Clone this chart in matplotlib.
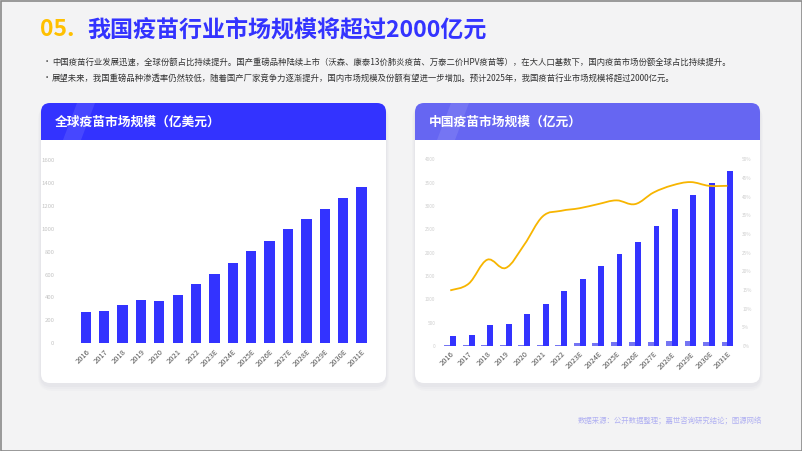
import matplotlib.pyplot as plt
import numpy as np
from matplotlib.patches import FancyBboxPatch, Rectangle, Polygon
from matplotlib.path import Path
from matplotlib.patches import PathPatch

plt.rcParams["font.family"] = ["Noto Sans CJK SC", "DejaVu Sans"]

years = ["2016", "2017", "2018", "2019", "2020", "2021", "2022", "2023E",
         "2024E", "2025E", "2026E", "2027E", "2028E", "2029E", "2030E", "2031E"]

# global vaccine market (100M USD)
global_market = [273, 282, 335, 375, 369, 425, 515, 605, 704, 803, 896, 995, 1085, 1175, 1265, 1364]

# China vaccine market (100M CNY), secondary small series, and share line (%)
china_small = [25, 25, 25, 25, 25, 25, 25, 55, 70, 80, 92, 95, 102, 102, 95, 85]
china_market = [214, 243, 450, 479, 686, 900, 1179, 1429, 1714, 1964, 2221, 2564, 2936, 3236, 3486, 3750]
china_share = [14.9, 16.7, 23.1, 20.9, 27.1, 34.7, 36.2, 36.9, 38.0, 39.0, 38.0, 41.1, 43.0, 43.9, 42.9, 42.9]

left_ticks = [0, 200, 400, 600, 800, 1000, 1200, 1400, 1600]
right_ticks = [0, 500, 1000, 1500, 2000, 2500, 3000, 3500, 4000]
pct_ticks = [0, 5, 10, 15, 20, 25, 30, 35, 40, 45, 50]

title_num = "05."
title_text = "我国疫苗行业市场规模将超过2000亿元"
bullets = [
    "中国疫苗行业发展迅速，全球份额占比持续提升。国产重磅品种陆续上市（沃森、康泰13价肺炎疫苗、万泰二价HPV疫苗等），在大人口基数下，国内疫苗市场份额全球占比持续提升。",
    "展望未来，我国重磅品种渗透率仍然较低，随着国产厂家竞争力逐渐提升，国内市场规模及份额有望进一步增加。预计2025年，我国疫苗行业市场规模将超过2000亿元。",
]
card_titles = ["全球疫苗市场规模（亿美元）", "中国疫苗市场规模（亿元）"]
source = "数据来源：公开数据整理；嘉世咨询研究结论；图源网络"

BLUE = "#3333ff"
LIGHT_BLUE = "#6666f2"
YELLOW = "#ffc000"
W, H = 802, 451

fig = plt.figure(figsize=(W / 100, H / 100), dpi=100)
fig.patch.set_facecolor("#f3f3f4")

# background canvas in pixel coords
bg = fig.add_axes([0, 0, 1, 1])
bg.set_xlim(0, W)
bg.set_ylim(H, 0)
bg.axis("off")
bg.add_patch(Rectangle((0.5, 0.5), W - 1, H - 1, fill=False, ec="#8a8a8a", lw=1.2))

bg.text(40, 30, title_num, color=YELLOW, fontsize=16.5, fontweight="bold", va="center")
bg.text(87, 30, title_text, color=BLUE, fontsize=16.6, fontweight="bold", va="center")
for i, line in enumerate(bullets):
    y = 62 + 16 * i
    bg.text(43, y, "•", color="#444444", fontsize=6, va="center")
    bg.text(52, y, line, color="#333333", fontsize=6.0, va="center")


def card(x0, x1, y0, y1, head_color, title):
    r = 9
    # soft shadow
    for k, a in [(6, 0.03), (4, 0.04), (2, 0.05)]:
        bg.add_patch(FancyBboxPatch((x0 - k / 2, y0 + 2), x1 - x0 + k, y1 - y0 + k,
                                    boxstyle=f"round,pad=0,rounding_size={r + k}",
                                    fc="#9090b0", ec="none", alpha=a))
    bg.add_patch(FancyBboxPatch((x0, y0), x1 - x0, y1 - y0,
                                boxstyle=f"round,pad=0,rounding_size={r}",
                                fc="white", ec="none"))
    bg.add_patch(FancyBboxPatch((x0, y0), x1 - x0, 48,
                                boxstyle=f"round,pad=0,rounding_size={r}",
                                fc=head_color, ec="none"))
    bg.add_patch(Rectangle((x0, 140), x1 - x0, 14, fc="white", ec="none"))
    bg.add_patch(Polygon([(x0 + 22, 140), (x0 + 40, 140), (x0 + 54, y0), (x0 + 36, y0)],
                         closed=True, fc="white", ec="none", alpha=0.1))
    bg.text(x0 + 14, 122, title, color="white", fontsize=9.2, fontweight="bold", va="center")


card(41, 386, 103, 383, BLUE, card_titles[0])
card(415, 760, 103, 383, LIGHT_BLUE, card_titles[1])

bg.text(762, 421, source, color="#b0b0f2", fontsize=5.3, ha="right", va="center")

x = np.arange(len(years))

# left chart
ax1 = fig.add_axes([76.6 / W, (H - 343.3) / H, 294.1 / W, 183.3 / H])
ax1.bar(x, global_market, width=0.56, color=BLUE)
ax1.set_xlim(-0.5, len(years) - 0.5)
ax1.set_ylim(0, 1600)
ax1.set_yticks(left_ticks)
ax1.tick_params(axis="y", length=0, pad=16, labelsize=4.3, labelcolor="#c4c4c4")
ax1.set_xticks(x)
ax1.set_xticklabels(years, rotation=45, ha="right", rotation_mode="anchor",
                    fontsize=5.4, color="#555555")
ax1.tick_params(axis="x", length=0, pad=3)
for s in ax1.spines.values():
    s.set_visible(False)
ax1.patch.set_alpha(0)

# right chart
ax2 = fig.add_axes([441 / W, (H - 346) / H, 295.7 / W, 186.7 / H])
bw = 0.32
ax2.bar(x - bw / 2, china_small, width=bw, color=LIGHT_BLUE, alpha=0.9)
ax2.bar(x + bw / 2, china_market, width=bw, color=BLUE)
ax2.set_xlim(-0.5, len(years) - 0.5)
ax2.set_ylim(0, 4000)
ax2.set_yticks(right_ticks)
ax2.tick_params(axis="y", length=0, pad=4, labelsize=3.4, labelcolor="#cfcfcf")
ax2.set_xticks(x)
ax2.set_xticklabels(years, rotation=45, ha="right", rotation_mode="anchor",
                    fontsize=5.4, color="#555555")
ax2.tick_params(axis="x", length=0, pad=3)
for s in ax2.spines.values():
    s.set_visible(False)
ax2.patch.set_alpha(0)

ax3 = ax2.twinx()
ax3.set_ylim(0, 50)
ax3.set_yticks(pct_ticks)
ax3.set_yticklabels([f"{t}%" for t in pct_ticks])
ax3.tick_params(axis="y", length=0, pad=4, labelsize=3.4, labelcolor="#cfcfcf")
for s in ax3.spines.values():
    s.set_visible(False)

# smooth share line as cubic bezier through the data points
pts = np.column_stack([x, china_share]).astype(float)
verts = [tuple(pts[0])]
codes = [Path.MOVETO]
t = 0.18
for i in range(len(pts) - 1):
    p0 = pts[max(i - 1, 0)]
    p1 = pts[i]
    p2 = pts[i + 1]
    p3 = pts[min(i + 2, len(pts) - 1)]
    c1 = p1 + (p2 - p0) * t
    c2 = p2 - (p3 - p1) * t
    verts += [tuple(c1), tuple(c2), tuple(p2)]
    codes += [Path.CURVE4] * 3
ax3.add_patch(PathPatch(Path(verts, codes), fc="none", ec="#f7b500", lw=1.3))

plt.savefig("out.png", dpi=100)
